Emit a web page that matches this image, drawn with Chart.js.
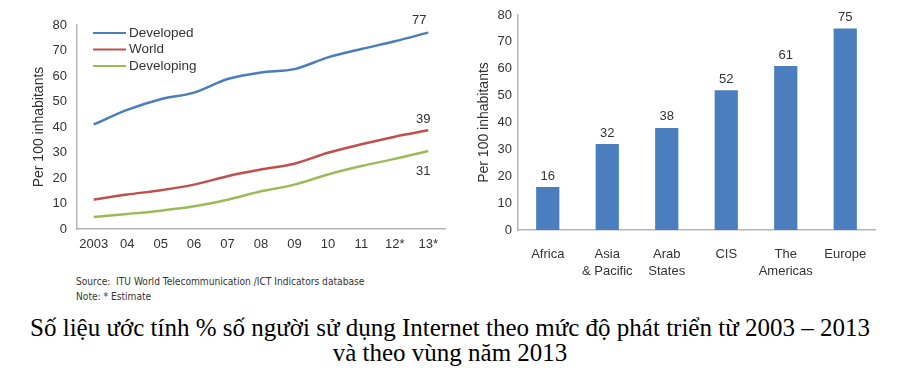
<!DOCTYPE html>
<html><head><meta charset="utf-8">
<script src="https://cdn.jsdelivr.net/npm/chart.js@4.4.0/dist/chart.umd.min.js"></script>
<style>
html,body{margin:0;padding:0;background:#fff;width:900px;height:382px;overflow:hidden;position:relative;}
#c1{position:absolute;left:0;top:0;}
#c2{position:absolute;left:450px;top:0;}
#src{position:absolute;left:76px;top:274px;font-family:"Liberation Sans Narrow","DejaVu Sans Condensed",sans-serif;font-size:11px;color:#333;line-height:15px;transform:scaleX(0.92);transform-origin:left top;}
#cap{position:absolute;left:0;width:900px;top:315px;text-align:center;font-family:"Liberation Serif","Times New Roman",serif;font-size:25px;line-height:25px;color:#000;}
</style></head><body>
<canvas id="c1" width="450" height="260"></canvas>
<canvas id="c2" width="450" height="285"></canvas>
<div id="src">Source:&nbsp; ITU World Telecommunication /ICT Indicators database<br>Note: * Estimate</div>
<div id="cap">Số liệu ước tính % số người sử dụng Internet theo mức độ phát triển từ 2003 – 2013<br>và theo vùng năm 2013</div>
<script>
const years = ['2003','04','05','06','07','08','09','10','11','12*','13*'];
const developed = [41, 46.7, 50.9, 53.5, 58.8, 61.4, 62.7, 67.3, 70.6, 73.6, 77];
const world = [11.5, 13.5, 15.2, 17.4, 20.7, 23.3, 25.6, 29.9, 33.2, 36.2, 38.7];
const developing = [4.7, 5.9, 7.2, 8.9, 11.5, 14.8, 17.4, 21.4, 24.7, 27.5, 30.6];
const seriesNames = ['Developed', 'World', 'Developing'];
const endLabels = ['77', '39', '31'];
const yTicks = [0, 10, 20, 30, 40, 50, 60, 70, 80];
const regions = [['Africa'], ['Asia', '& Pacific'], ['Arab', 'States'], ['CIS'], ['The', 'Americas'], ['Europe']];
const regionValues = [16, 32, 38, 52, 61, 75];
const regionLabels = ['16', '32', '38', '52', '61', '75'];

const FONT = '"Liberation Sans", Arial, sans-serif';
const TXT = '#333';
const AX = '#b5b5b5';
const colors = ['#4a7ebb', '#c0504d', '#9bbb59'];

const lineLabelPlugin = {
  id: 'lineLabels',
  afterDatasetsDraw(chart) {
    const ctx = chart.ctx;
    ctx.save();
    ctx.font = '13px ' + FONT;
    ctx.fillStyle = TXT;
    ctx.textAlign = 'center';
    ctx.textBaseline = 'middle';
    const offs = [[-9, -12], [-5, -11], [-5, 20]];
    chart.data.datasets.forEach((ds, i) => {
      const meta = chart.getDatasetMeta(i);
      const p = meta.data[meta.data.length - 1];
      ctx.fillText(endLabels[i], p.x + offs[i][0], p.y + offs[i][1]);
    });
    ctx.font = '13.5px ' + FONT;
    ctx.textAlign = 'left';
    chart.data.datasets.forEach((ds, i) => {
      const y = 33 + i * 16.5;
      ctx.strokeStyle = ds.borderColor;
      ctx.lineWidth = 2;
      ctx.beginPath(); ctx.moveTo(93, y); ctx.lineTo(126, y); ctx.stroke();
      ctx.fillStyle = TXT;
      ctx.fillText(ds.label, 129, y);
    });
    ctx.restore();
  }
};

new Chart(document.getElementById('c1'), {
  type: 'line',
  data: {
    labels: years,
    datasets: [
      { label: seriesNames[0], data: developed, borderColor: colors[0] },
      { label: seriesNames[1], data: world, borderColor: colors[1] },
      { label: seriesNames[2], data: developing, borderColor: colors[2] }
    ].map(d => Object.assign(d, { borderWidth: 2.5, pointRadius: 0, tension: 0.3, fill: false }))
  },
  options: {
    responsive: false, animation: false,
    layout: { padding: { top: 25, right: 5, left: 31, bottom: 0 } },
    plugins: { legend: { display: false }, tooltip: { enabled: false } },
    scales: {
      x: {
        type: 'category', offset: true,
        grid: { display: false, drawTicks: false },
        border: { color: AX, width: 1.5 },
        ticks: { color: TXT, font: { size: 13, family: FONT }, padding: 8, maxRotation: 0, autoSkip: false },
        afterFit(s) { s.height = 31; }
      },
      y: {
        min: 0, max: 80,
        afterBuildTicks(s) { s.ticks = yTicks.map(v => ({ value: v })); },
        grid: { display: false, drawTicks: false },
        border: { color: AX, width: 1.5 },
        ticks: { color: TXT, font: { size: 13, family: FONT }, padding: 10 },
        title: { display: true, text: 'Per 100 inhabitants', color: TXT, font: { size: 14, family: FONT }, padding: 0 },
        afterFit(s) { s.width = 46; }
      }
    }
  },
  plugins: [lineLabelPlugin]
});

const barLabelPlugin = {
  id: 'barLabels',
  afterDatasetsDraw(chart) {
    const ctx = chart.ctx;
    ctx.save();
    ctx.font = '13px ' + FONT;
    ctx.fillStyle = TXT;
    ctx.textAlign = 'center';
    ctx.textBaseline = 'middle';
    const meta = chart.getDatasetMeta(0);
    meta.data.forEach((b, i) => ctx.fillText(regionLabels[i], b.x, b.y - 11));
    ctx.restore();
  }
};

new Chart(document.getElementById('c2'), {
  type: 'bar',
  data: {
    labels: regions,
    datasets: [{ data: regionValues, backgroundColor: '#4a7ebf', barPercentage: 0.78, categoryPercentage: 0.5 }]
  },
  options: {
    responsive: false, animation: false,
    layout: { padding: { top: 15, right: 25, left: 26, bottom: 0 } },
    plugins: { legend: { display: false }, tooltip: { enabled: false } },
    scales: {
      x: {
        grid: { display: false, drawTicks: false },
        border: { color: AX, width: 1.5 },
        ticks: { color: TXT, font: { size: 13, family: FONT, lineHeight: 1.3 }, padding: 16, maxRotation: 0, autoSkip: false },
        afterFit(s) { s.height = 55; }
      },
      y: {
        min: 0, max: 80,
        afterBuildTicks(s) { s.ticks = yTicks.map(v => ({ value: v })); },
        grid: { display: false, drawTicks: false },
        border: { color: AX, width: 1.5 },
        ticks: { color: TXT, font: { size: 13, family: FONT }, padding: 6 },
        title: { display: true, text: 'Per 100 inhabitants', color: TXT, font: { size: 14, family: FONT }, padding: 0 },
        afterFit(s) { s.width = 42; }
      }
    }
  },
  plugins: [barLabelPlugin]
});
</script>
</body></html>
